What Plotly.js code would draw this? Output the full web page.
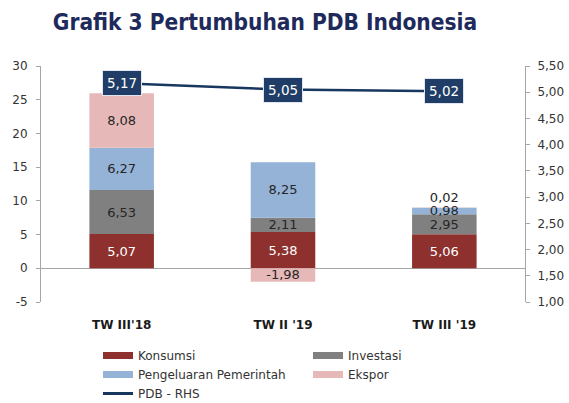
<!DOCTYPE html>
<html>
<head>
<meta charset="utf-8">
<script src="https://cdn.plot.ly/plotly-3.0.1.min.js"></script>
<style>html,body{margin:0;padding:0;background:#fff;}#chart{width:569px;height:403px;}</style>
</head>
<body>
<div id="chart"></div>
<script>
const categories = ["TW III'18", "TW II '19", "TW III '19"];
const konsumsi = [5.07, 5.38, 5.06];
const investasi = [6.53, 2.11, 2.95];
const pemerintah = [6.27, 8.25, 0.98];
const ekspor = [8.08, -1.98, 0.02];
const pdb = [5.17, 5.05, 5.02];
const leftTicks = [-5, 0, 5, 10, 15, 20, 25, 30];
const rightTicks = [1.0, 1.5, 2.0, 2.5, 3.0, 3.5, 4.0, 4.5, 5.0, 5.5];

const fmt = v => v.toFixed(2).replace('.', ',');
const FONT = 'DejaVu Sans, sans-serif';
const colors = {k: '#8E302E', i: '#808080', p: '#95B3D7', e: '#E6B9B8', pdb: '#17375E'};

function barTrace(name, vals, color, txtColor, pos) {
  return {
    type: 'bar', name: name, x: categories, y: vals,
    marker: {color: color, line: {width: 0}},
    text: vals.map(fmt), textposition: pos || 'inside', insidetextanchor: 'middle',
    textangle: 0, constraintext: 'none', cliponaxis: false,
    textfont: {family: FONT, size: 13, color: txtColor},
    hoverinfo: 'skip', showlegend: false, width: 0.4
  };
}
function legendTrace(name, color, w) {
  return {type: 'scatter', mode: 'lines', name: name, x: [null], y: [null],
          line: {color: color, width: w}, showlegend: true, hoverinfo: 'skip'};
}

const traces = [
  barTrace('Konsumsi', konsumsi, colors.k, '#ffffff'),
  barTrace('Investasi', investasi, colors.i, '#262626'),
  barTrace('Pengeluaran Pemerintah', pemerintah, colors.p, '#262626'),
  barTrace('Ekspor', ekspor, colors.e, '#262626', ekspor.map((v, i) => i === ekspor.length - 1 ? 'outside' : 'inside')),
  {type: 'scatter', mode: 'lines', name: 'PDB - RHS', x: categories, y: pdb, yaxis: 'y2',
   line: {color: colors.pdb, width: 2.5}, showlegend: false, hoverinfo: 'skip'},
  legendTrace('Konsumsi', colors.k, 7),
  legendTrace('Investasi', colors.i, 7),
  legendTrace('Pengeluaran Pemerintah', colors.p, 7),
  legendTrace('Ekspor', colors.e, 7),
  legendTrace('PDB - RHS', colors.pdb, 3)
];

const annotations = pdb.map((v, i) => ({
  x: categories[i], y: v, xref: 'x', yref: 'y2', text: fmt(v), showarrow: false,
  font: {family: FONT, size: 13.5, color: '#ffffff'},
  bgcolor: '#1F3D66', bordercolor: '#dfe6ef', borderwidth: 1, borderpad: 4
}));

const yRange = [-5, 30];
const layout = {
  width: 569, height: 403,
  margin: {l: 41, r: 44, t: 66, b: 101},
  paper_bgcolor: '#ffffff', plot_bgcolor: '#ffffff',
  barmode: 'relative',
  separators: ',.',
  font: {family: FONT, size: 12, color: '#333333'},
  title: {text: 'Grafik 3 Pertumbuhan PDB Indonesia', x: 265 / 569, xanchor: 'center',
          y: 1 - 22 / 403, yanchor: 'middle', yref: 'container',
          font: {family: 'DejaVu Sans Condensed, DejaVu Sans, sans-serif', size: 22.5, weight: 700, color: '#1F2A5C'}},
  xaxis: {type: 'category', categoryarray: categories, range: [-0.5, categories.length - 0.5],
          showline: false, showgrid: false, zeroline: false, ticks: '',
          tickfont: {family: FONT, size: 12, weight: 700, color: '#1a1a1a'},
          ticklabelstandoff: 14, fixedrange: true},
  xaxis2: {overlaying: 'x', anchor: 'free',
           position: (0 - yRange[0]) / (yRange[1] - yRange[0]),
           range: [-0.5, categories.length - 0.5], type: 'linear',
           tickvals: categories.slice(1).map((c, i) => i + 0.5),
           ticks: 'outside', ticklen: 4, tickcolor: '#B0B0B0', showticklabels: false,
           showline: false, showgrid: false, zeroline: false},
  yaxis: {range: yRange, tickvals: leftTicks, ticktext: leftTicks.map(String),
          showline: true, linecolor: '#A6A6A6', linewidth: 1, ticks: 'outside', ticklen: 4,
          tickcolor: '#A6A6A6', showgrid: false, zeroline: true, zerolinecolor: '#A6A6A6',
          zerolinewidth: 1, ticklabelstandoff: 6, tickfont: {family: FONT, size: 12, color: '#333333'}},
  yaxis2: {overlaying: 'y', side: 'right', range: [1, 5.5], tickvals: rightTicks,
           tickformat: '.2f', showline: true, linecolor: '#A6A6A6', linewidth: 1,
           ticks: 'outside', ticklen: 4, tickcolor: '#A6A6A6', showgrid: false, zeroline: false,
           ticklabelstandoff: 5, tickfont: {family: FONT, size: 12, color: '#333333'}},
  legend: {orientation: 'h', xref: 'container', yref: 'container',
           x: 98 / 569, xanchor: 'left', y: 1 - 341 / 403, yanchor: 'top',
           entrywidth: 165, entrywidthmode: 'pixels', tracegroupgap: 0,
           font: {family: FONT, size: 12, color: '#333333'}, bgcolor: 'rgba(0,0,0,0)'},
  annotations: annotations,
  showlegend: true
};

Plotly.newPlot('chart', traces, layout, {staticPlot: true, displayModeBar: false});
</script>
</body>
</html>
